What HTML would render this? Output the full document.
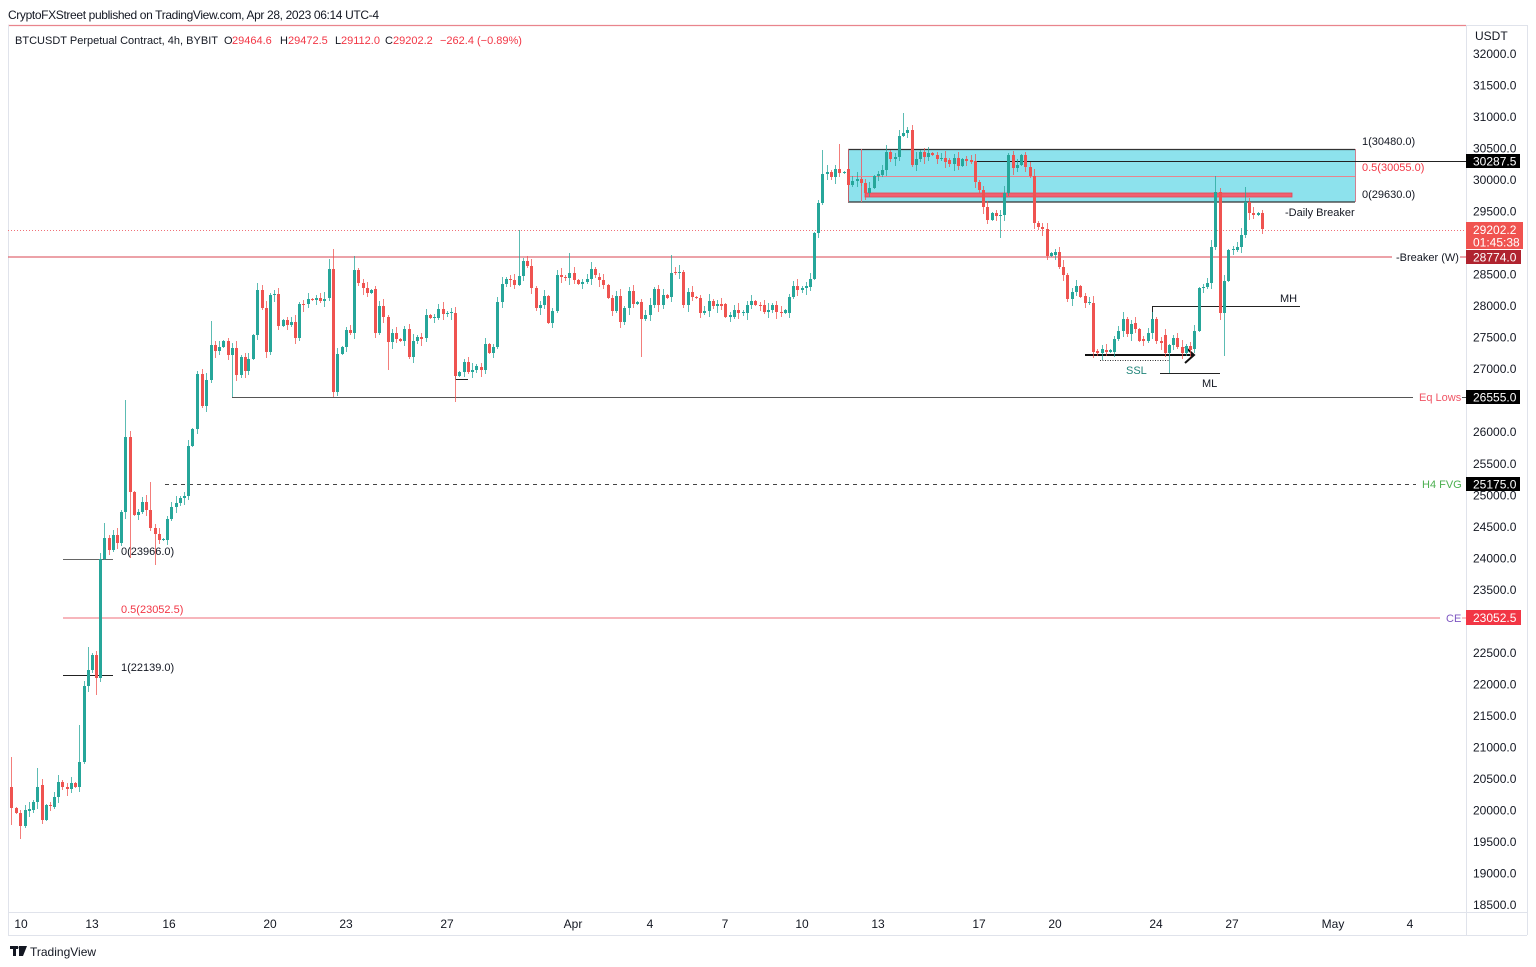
<!DOCTYPE html>
<html><head><meta charset="utf-8">
<style>
html,body{margin:0;padding:0;background:#fff;width:1536px;height:967px;overflow:hidden}
svg{display:block}
text{font-family:"Liberation Sans",Arial,sans-serif;fill:#131722}
</style></head><body>
<svg id="s" width="1536" height="967" viewBox="0 0 1536 967" xmlns="http://www.w3.org/2000/svg">
<rect x="0" y="0" width="1536" height="967" fill="#fff"/>
<!-- header -->
<text x="8" y="19" font-size="12" textLength="371">CryptoFXStreet published on TradingView.com, Apr 28, 2023 06:14 UTC-4</text>
<!-- frame -->
<line x1="8" y1="25.5" x2="1466" y2="25.5" stroke="#e9848d" stroke-width="1.2"/>
<line x1="1466" y1="25.5" x2="1527" y2="25.5" stroke="#e0e3eb"/>
<line x1="8.5" y1="25" x2="8.5" y2="935" stroke="#e0e3eb"/>
<line x1="1466.5" y1="25" x2="1466.5" y2="935" stroke="#e0e3eb"/>
<line x1="1527.5" y1="25" x2="1527.5" y2="935" stroke="#e0e3eb"/>
<line x1="8" y1="912.5" x2="1527" y2="912.5" stroke="#e0e3eb"/>
<line x1="8" y1="935.5" x2="1527" y2="935.5" stroke="#e0e3eb"/>
<!-- legend -->
<text x="15" y="44" font-size="11" textLength="203" lengthAdjust="spacingAndGlyphs">BTCUSDT Perpetual Contract, 4h, BYBIT</text>
<text y="44" font-size="11"><tspan x="224">O</tspan><tspan x="232" style="fill:#f23645">29464.6</tspan><tspan x="280">H</tspan><tspan x="288" style="fill:#f23645">29472.5</tspan><tspan x="335">L</tspan><tspan x="341" style="fill:#f23645">29112.0</tspan><tspan x="385">C</tspan><tspan x="393" style="fill:#f23645">29202.2</tspan><tspan x="440" style="fill:#f23645">−262.4 (−0.89%)</tspan></text>

<!-- fib box -->
<rect x="848" y="149.5" width="507" height="52.5" fill="#8de2ed"/>
<line x1="848" y1="149.5" x2="1355" y2="149.5" stroke="#333" stroke-width="1.2"/>
<line x1="848" y1="202" x2="1355" y2="202" stroke="#333" stroke-width="1.2"/>
<line x1="848.5" y1="149" x2="848.5" y2="202" stroke="#c0606a"/>
<line x1="1355.5" y1="149" x2="1355.5" y2="202" stroke="#d08090"/>
<line x1="861.5" y1="149" x2="861.5" y2="202" stroke="#e0707c"/>
<line x1="848" y1="176.5" x2="1355" y2="176.5" stroke="#e8848f"/>
<rect x="865" y="193" width="427" height="4" fill="#f06070" stroke="#e04555" stroke-width="0.8"/>
<line x1="975" y1="161.5" x2="1466" y2="161.5" stroke="#222"/>
<text x="1362" y="145" font-size="11">1(30480.0)</text>
<text x="1362" y="171" font-size="11" style="fill:#f23645">0.5(30055.0)</text>
<text x="1362" y="198" font-size="11">0(29630.0)</text>
<text x="1285" y="216" font-size="11">-Daily Breaker</text>

<!-- horizontal lines -->
<line x1="8" y1="230.5" x2="1466" y2="230.5" stroke="#f07078" stroke-dasharray="1,2"/>
<line x1="8" y1="257" x2="1392" y2="257" stroke="#e06a74" stroke-width="1.2"/>
<line x1="1460" y1="257" x2="1466" y2="257" stroke="#e06a74" stroke-width="1.2"/>
<text x="1396" y="261" font-size="11">-Breaker (W)</text>
<line x1="232" y1="397.5" x2="1413" y2="397.5" stroke="#555"/>
<line x1="1462" y1="397.5" x2="1466" y2="397.5" stroke="#555"/>
<text x="1419" y="401" font-size="11" style="fill:#f05565">Eq Lows</text>
<line x1="165" y1="484.5" x2="1416" y2="484.5" stroke="#444" stroke-dasharray="4,4"/>
<text x="1422" y="488" font-size="11" style="fill:#4caf50">H4 FVG</text>
<line x1="63" y1="618" x2="1440" y2="618" stroke="#f28b95" stroke-width="1.2"/>
<line x1="1462" y1="618" x2="1466" y2="618" stroke="#f28b95"/>
<text x="1446" y="622" font-size="11" style="fill:#7e57c2">CE</text>

<!-- left fib -->
<line x1="63" y1="559.5" x2="113" y2="559.5" stroke="#666"/>
<text x="121" y="555" font-size="11">0(23966.0)</text>
<text x="121" y="613" font-size="11" style="fill:#f23645">0.5(23052.5)</text>
<line x1="63" y1="675.5" x2="113" y2="675.5" stroke="#222"/>
<text x="121" y="671" font-size="11">1(22139.0)</text>

<!-- small marks -->
<line x1="455" y1="379.5" x2="468" y2="379.5" stroke="#222"/>
<line x1="455.5" y1="372" x2="455.5" y2="380" stroke="#777"/>

<!-- MH / ML / SSL -->
<line x1="1152" y1="306.5" x2="1300" y2="306.5" stroke="#222"/>
<line x1="1152.5" y1="306" x2="1152.5" y2="321" stroke="#222"/>
<text x="1280" y="302" font-size="11">MH</text>
<line x1="1160" y1="373.5" x2="1220" y2="373.5" stroke="#222"/>
<text x="1202" y="387" font-size="11">ML</text>
<line x1="1085" y1="355" x2="1193" y2="355" stroke="#111" stroke-width="2"/>
<polyline points="1185,347 1194,355 1185,363" fill="none" stroke="#111" stroke-width="2"/>
<line x1="1100" y1="360.5" x2="1170" y2="360.5" stroke="#333" stroke-dasharray="1,1.5"/>
<text x="1126" y="374" font-size="11" style="fill:#22857a">SSL</text>

<g id="c"></g>

<!-- price axis -->
<g font-size="12">
<text x="1475" y="40">USDT</text>
<text x="1473" y="58">32000.0</text>
<text x="1473" y="89.5">31500.0</text>
<text x="1473" y="121">31000.0</text>
<text x="1473" y="152.6">30500.0</text>
<text x="1473" y="184.1">30000.0</text>
<text x="1473" y="215.6">29500.0</text>
<text x="1473" y="278.6">28500.0</text>
<text x="1473" y="310.2">28000.0</text>
<text x="1473" y="341.7">27500.0</text>
<text x="1473" y="373.2">27000.0</text>
<text x="1473" y="436.2">26000.0</text>
<text x="1473" y="467.8">25500.0</text>
<text x="1473" y="499.3">25000.0</text>
<text x="1473" y="530.8">24500.0</text>
<text x="1473" y="562.3">24000.0</text>
<text x="1473" y="593.8">23500.0</text>
<text x="1473" y="656.9">22500.0</text>
<text x="1473" y="688.4">22000.0</text>
<text x="1473" y="719.9">21500.0</text>
<text x="1473" y="751.4">21000.0</text>
<text x="1473" y="783">20500.0</text>
<text x="1473" y="814.5">20000.0</text>
<text x="1473" y="846">19500.0</text>
<text x="1473" y="877.5">19000.0</text>
<text x="1473" y="909">18500.0</text>
</g>
<!-- tags -->
<rect x="1466" y="154" width="54" height="14" fill="#000"/>
<text x="1473" y="165.5" font-size="12" style="fill:#fff">30287.5</text>
<rect x="1466" y="222" width="57" height="27" fill="#f05350"/>
<text x="1473" y="234" font-size="12" style="fill:#fff">29202.2</text>
<text x="1473" y="246.5" font-size="12" style="fill:#fff">01:45:38</text>
<rect x="1466" y="250" width="55" height="14" fill="#b0232f"/>
<text x="1473" y="261.5" font-size="12" style="fill:#fff">28774.0</text>
<rect x="1466" y="390" width="54" height="14" fill="#000"/>
<text x="1473" y="401.5" font-size="12" style="fill:#fff">26555.0</text>
<rect x="1466" y="477" width="54" height="14" fill="#000"/>
<text x="1473" y="488.5" font-size="12" style="fill:#fff">25175.0</text>
<rect x="1466" y="610" width="55" height="15" fill="#f23645"/>
<text x="1473" y="622" font-size="12" style="fill:#fff">23052.5</text>

<!-- time axis -->
<g font-size="12" text-anchor="middle">
<text x="21" y="928">10</text>
<text x="92" y="928">13</text>
<text x="169" y="928">16</text>
<text x="270" y="928">20</text>
<text x="346" y="928">23</text>
<text x="447" y="928">27</text>
<text x="573" y="928">Apr</text>
<text x="650" y="928">4</text>
<text x="725" y="928">7</text>
<text x="802" y="928">10</text>
<text x="878" y="928">13</text>
<text x="979" y="928">17</text>
<text x="1055" y="928">20</text>
<text x="1156" y="928">24</text>
<text x="1232" y="928">27</text>
<text x="1333" y="928">May</text>
<text x="1410" y="928">4</text>
</g>
<!-- logo -->
<rect x="10" y="946" width="8" height="3" fill="#131722"/>
<rect x="13" y="946" width="3" height="10" fill="#131722"/>
<polygon points="19,946 27,946 23,956 19,956" fill="#131722"/>
<circle cx="20" cy="947.5" r="1.5" fill="#131722"/>
<text x="30" y="956" font-size="12">TradingView</text>
</svg>
<script>
var D=[[11,787,808,757,825],[16,808,813],[20,813,826,0,839],[25,826,810],[29,811,809],[33,810,802],[37,802,787,768],[42,785,820],[46,820,805],[50,805,806],[54,807,797],[58,797,782],[62,782,787],[67,787,789],[71,789,783],[75,783,787],[79,787,762,725],[84,762,686],[88,686,670,647],[92,670,655],[96,655,678,0,695],[100,678,559],[104,559,538,523],[109,538,550],[113,550,535],[117,535,543],[121,543,512],[125,512,437,400],[130,437,492,0,558],[134,492,515],[138,515,512],[142,512,502],[146,502,510],[150,510,528,482],[155,528,534,0,565],[159,534,540],[163,540,539],[167,540,519],[171,519,507],[176,507,503],[180,503,498],[184,498,496],[188,496,446],[192,446,429],[197,429,374],[202,374,406],[206,406,380],[211,380,345,321],[215,345,351],[219,351,347],[223,347,341],[228,341,355],[232,355,348,0,397],[236,348,375],[241,375,357],[245,357,371],[248,371,359],[253,359,335],[257,335,290,283],[262,290,308],[266,308,352],[270,352,295],[274,295,294],[278,294,326],[283,326,320],[287,320,325],[291,325,322],[295,322,338],[299,338,304],[303,304,305],[308,304,299],[312,299,300],[316,300,298],[320,298,301],[324,301,299],[329,298,269,259],[333,269,392,249,397],[337,392,354],[342,354,347],[346,347,330],[350,330,333],[354,333,270,256],[358,270,283],[363,283,288],[367,288,293],[371,293,290],[375,289,333],[379,333,306],[383,306,317],[388,317,342,0,370],[392,342,333],[396,333,339],[400,339,341],[404,341,329],[409,329,357],[413,357,341],[417,341,337],[421,337,339],[426,338,315],[430,315,318],[434,318,317],[438,318,309],[443,309,314],[447,314,313],[451,313,312],[455,313,376,0,402],[459,376,372],[464,372,362],[468,362,372],[472,372,370],[476,370,366],[481,367,370],[485,370,344],[489,344,353],[493,353,347],[497,347,302],[502,302,284],[506,284,279],[510,279,280],[514,280,285],[519,285,276,230],[523,276,261],[527,261,266],[531,266,288],[536,288,308],[540,308,305],[544,305,296],[548,296,323],[552,323,311],[557,311,275],[561,275,277],[565,277,278],[569,278,273,253],[574,273,280],[578,280,284],[582,284,282],[587,282,279],[591,279,269],[595,269,275],[599,277,280],[603,280,285],[608,285,298],[612,298,311],[616,311,296],[620,296,322],[624,322,308],[629,308,291],[633,291,304],[637,304,302],[641,302,319,0,357],[645,319,315],[650,315,305],[654,305,289],[658,289,305],[663,305,295],[667,295,298],[671,297,273,255],[675,272,273],[679,273,272],[683,272,305],[688,305,292],[692,292,297],[696,297,298],[700,298,313],[704,313,311],[709,311,301],[713,301,306],[717,306,304],[721,304,306],[725,304,317],[730,317,315],[734,317,310],[738,310,313],[743,313,312],[747,313,305],[751,305,301],[755,301,305],[760,305,306],[764,305,312],[768,312,310],[772,310,305],[776,305,312],[781,312,313],[785,313,310],[789,313,297],[793,297,286],[797,286,290],[802,290,288],[806,288,286],[810,287,279],[814,279,233],[818,233,203],[822,203,174,150],[827,174,172],[831,172,177],[835,177,169],[839,169,173,144],[844,173,172],[848,169,185],[852,185,181],[857,181,179],[861,179,183],[865,183,193],[869,193,188],[874,188,176],[878,176,174],[882,175,170],[886,170,152],[890,152,159],[895,159,157],[899,157,136],[903,136,133,113],[907,133,130],[912,130,165],[916,165,159],[920,159,152],[924,152,157],[928,157,153],[932,153,155],[937,155,159],[941,159,158],[945,158,162],[949,160,164],[954,164,158],[958,158,166],[962,166,159],[966,159,161],[971,160,162],[975,161,182],[979,182,190],[983,190,207],[987,207,220],[992,220,213],[996,213,216],[1000,215,215,0,238],[1004,215,193],[1008,193,155],[1013,155,168],[1017,168,165],[1021,165,155],[1025,155,167],[1030,167,176],[1034,176,223],[1038,223,227],[1042,227,229],[1047,229,256],[1051,256,253],[1055,255,252],[1059,252,267],[1063,267,275],[1067,275,299],[1072,299,292],[1076,292,286],[1080,286,297],[1085,296,303],[1089,303,302],[1093,303,352],[1097,351,353],[1102,353,349],[1106,350,352],[1110,352,350],[1114,352,339],[1118,339,331],[1123,331,319],[1127,319,334],[1131,334,324],[1135,323,329],[1139,329,341],[1143,339,341],[1148,341,333],[1152,333,319],[1156,319,341],[1161,341,343],[1165,335,353],[1169,353,345,0,373],[1173,345,338],[1177,338,347],[1182,347,353],[1186,353,346],[1190,346,350],[1194,349,331],[1199,331,288],[1203,288,287],[1207,287,283],[1211,283,247],[1215,247,192,176],[1220,192,313],[1224,313,281,0,356],[1228,281,250],[1233,250,249],[1237,250,247],[1241,247,235],[1245,235,202,187],[1249,202,213],[1253,213,215],[1258,215,213],[1262,213,229]];
var h='';
for(var i=0;i<D.length;i++){var d=D[i],x=d[0],o=d[1],c=d[2];var t=Math.min(o,c),b=Math.max(o,c);
var hi=d[3]||(t-(1+(i*37+5)%7));var lo=d[4]||(b+(1+(i*53+3)%7));
var col=(c<=o)?'#26a69a':'#ef5350';
h+='<line x1="'+(x+0.5)+'" y1="'+hi+'" x2="'+(x+0.5)+'" y2="'+lo+'" stroke="'+col+'" stroke-width="1" opacity="0.75"/>';
h+='<rect x="'+(x-1)+'" y="'+t+'" width="3" height="'+Math.max(1,b-t)+'" fill="'+col+'"/>';}
document.getElementById('c').innerHTML=h;
</script>
</body></html>
